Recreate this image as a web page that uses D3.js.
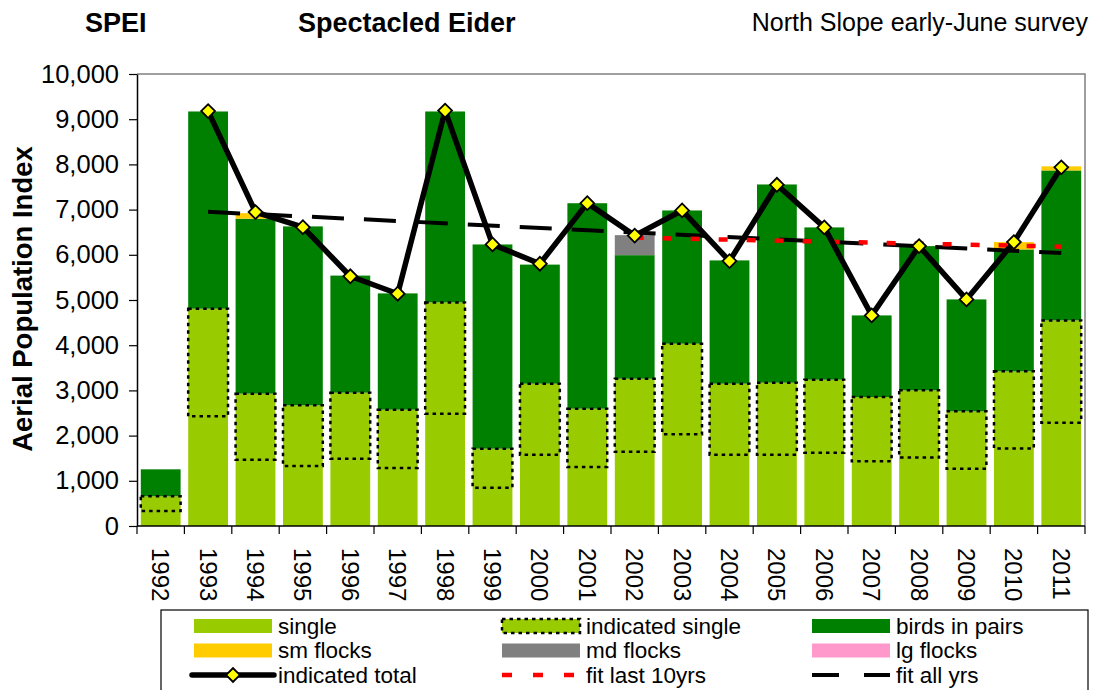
<!DOCTYPE html>
<html>
<head>
<meta charset="utf-8">
<script src="https://cdn.jsdelivr.net/npm/d3@7"></script>
<style>
  body { margin: 0; background: #fff; }
  svg { display: block; font-family: "Liberation Sans", Arial, sans-serif; }
</style>
</head>
<body>
<script>
// values
const years = [1992, 1993, 1994, 1995, 1996, 1997, 1998, 1999, 2000, 2001,
               2002, 2003, 2004, 2005, 2006, 2007, 2008, 2009, 2010, 2011];
const single = [657, 4808, 2928, 2669, 2950, 2574, 4947, 1711, 3149, 2596,
                3259, 4033, 3149, 3171, 3237, 2853, 3001, 2536, 3421, 4549];
const indicatedSingleBase = [332, 2426, 1468, 1327, 1490, 1283, 2486, 849, 1579, 1305,
                             1645, 2028, 1579, 1579, 1623, 1431, 1513, 1269, 1712, 2287];
const birdsInPairs = [597, 4363, 3870, 3959, 2590, 2572, 4224, 4518, 2634, 4545,
                      2733, 2948, 2727, 4385, 3369, 1806, 3191, 2477, 2697, 3317];
const smFlocks = [0, 0, 124, 0, 0, 0, 0, 0, 0, 0,
                  0, 0, 0, 0, 0, 0, 0, 0, 163, 91];
const mdFlocks = [0, 0, 0, 0, 0, 0, 0, 0, 0, 0,
                  443, 0, 0, 0, 0, 0, 0, 0, 0, 0];
const lgFlocks = [0, 0, 0, 0, 0, 0, 0, 0, 0, 0,
                  0, 0, 0, 0, 0, 0, 0, 0, 0, 0];
const indicatedTotal = [null, 9180, 6945, 6612, 5525, 5139, 9190, 6229, 5802, 7143,
                        6425, 6981, 5861, 7549, 6606, 4659, 6192, 5013, 6281, 7935];
const fitAllYears = [1993, 2011];
const fitAllValues = [6950, 6040];
const fitLast10Years = [2002, 2011];
const fitLast10Values = [6380, 6180];
const yTicks = [0, 1000, 2000, 3000, 4000, 5000, 6000, 7000, 8000, 9000, 10000];

const width = 1094, height = 690;
const plot = { left: 137, right: 1085, top: 74, bottom: 526 };

const svg = d3.select("body").append("svg")
    .attr("width", width)
    .attr("height", height);

svg.append("rect").attr("width", width).attr("height", height).attr("fill", "#fff");

const x = d3.scaleBand()
    .domain(years)
    .range([plot.left, plot.right])
    .paddingInner(0.16)
    .paddingOuter(0.08);

const y = d3.scaleLinear()
    .domain([0, 10000])
    .range([plot.bottom, plot.top]);

// stacked bars
const stackKeys = ["single", "pairs", "sm", "md", "lg"];
const colors = { single: "#99CC00", pairs: "#008000", sm: "#FFCC00", md: "#808080", lg: "#FF99CC" };
const rows = years.map((yr, i) => ({
    year: yr, single: single[i], pairs: birdsInPairs[i],
    sm: smFlocks[i], md: mdFlocks[i], lg: lgFlocks[i]
}));
const series = d3.stack().keys(stackKeys)(rows);

svg.append("g").selectAll("g")
    .data(series)
    .join("g")
    .attr("fill", d => colors[d.key])
    .selectAll("rect")
    .data(d => d.filter(s => s[1] - s[0] > 0))
    .join("rect")
    .attr("x", d => x(d.data.year))
    .attr("width", x.bandwidth())
    .attr("y", d => y(d[1]))
    .attr("height", d => y(d[0]) - y(d[1]));

// indicated single (dotted box)
svg.append("g").selectAll("rect")
    .data(years)
    .join("rect")
    .attr("x", d => x(d))
    .attr("width", x.bandwidth())
    .attr("y", (d, i) => y(single[i]))
    .attr("height", (d, i) => y(indicatedSingleBase[i]) - y(single[i]))
    .attr("fill", "none")
    .attr("stroke", "#000")
    .attr("stroke-width", 2.5)
    .attr("stroke-dasharray", "3.5,4");

// plot border (top and right)
svg.append("path")
    .attr("d", `M${plot.left},${plot.top}H${plot.right}V${plot.bottom}`)
    .attr("fill", "none")
    .attr("stroke", "#808080")
    .attr("stroke-width", 1.5);

const cx = d => x(d) + x.bandwidth() / 2;

// fit lines
const fitLine = d3.line().x(d => cx(d[0])).y(d => y(d[1]));
svg.append("path")
    .attr("d", fitLine(d3.zip(fitAllYears, fitAllValues)))
    .attr("fill", "none")
    .attr("stroke", "#000")
    .attr("stroke-width", 4)
    .attr("stroke-dasharray", "32,20");
svg.append("path")
    .attr("d", fitLine(d3.zip(fitLast10Years, fitLast10Values)))
    .attr("fill", "none")
    .attr("stroke", "#FF0000")
    .attr("stroke-width", 4.5)
    .attr("stroke-dasharray", "9,19");

// indicated total
const totals = years.map((yr, i) => [yr, indicatedTotal[i]]).filter(d => d[1] != null);
svg.append("path")
    .attr("d", d3.line().x(d => cx(d[0])).y(d => y(d[1]))(totals))
    .attr("fill", "none")
    .attr("stroke", "#000")
    .attr("stroke-width", 5.5)
    .attr("stroke-linejoin", "round");

const diamond = d3.symbol().type(d3.symbolSquare).size(95);
svg.append("g").selectAll("path")
    .data(totals)
    .join("path")
    .attr("d", diamond)
    .attr("transform", d => `translate(${cx(d[0])},${y(d[1])}) rotate(45)`)
    .attr("fill", "#FFFF00")
    .attr("stroke", "#000")
    .attr("stroke-width", 1.8);

// y axis
const yAxis = svg.append("g")
    .attr("transform", `translate(${plot.left},0)`)
    .call(d3.axisLeft(y).tickValues(yTicks).tickFormat(d3.format(",")).tickSize(8).tickSizeOuter(0));
yAxis.select(".domain").attr("stroke", "#000").attr("stroke-width", 1.5);
yAxis.selectAll(".tick line").attr("stroke", "#000").attr("stroke-width", 1.2);
yAxis.selectAll(".tick text")
    .attr("x", -18)
    .attr("font-size", 25.5)
    .attr("font-family", "'Liberation Sans', Arial, sans-serif")
    .attr("fill", "#000");

// x axis
const xAxis = svg.append("g").attr("transform", `translate(0,${plot.bottom})`);
xAxis.append("line")
    .attr("x1", plot.left).attr("x2", plot.right)
    .attr("stroke", "#000").attr("stroke-width", 1.5);
const step = x.step();
xAxis.selectAll(".xtick")
    .data(d3.range(years.length + 1))
    .join("line")
    .attr("x1", i => plot.left + i * step)
    .attr("x2", i => plot.left + i * step)
    .attr("y1", 0).attr("y2", 8)
    .attr("stroke", "#000").attr("stroke-width", 1.2);
xAxis.selectAll(".xlabel")
    .data(years)
    .join("text")
    .attr("transform", d => `translate(${cx(d)},22) rotate(90)`)
    .attr("dy", "0.35em")
    .attr("font-size", 24)
    .attr("text-anchor", "start")
    .text(d => d);

// titles
svg.append("text").attr("x", 85).attr("y", 32)
    .attr("font-size", 27).attr("font-weight", "bold").text("SPEI");
svg.append("text").attr("x", 298).attr("y", 32)
    .attr("font-size", 27).attr("font-weight", "bold").text("Spectacled Eider");
svg.append("text").attr("x", 1088).attr("y", 31)
    .attr("font-size", 25).attr("text-anchor", "end").text("North Slope early-June survey");
svg.append("text")
    .attr("transform", "translate(32,299) rotate(-90)")
    .attr("font-size", 27.5).attr("font-weight", "bold").attr("text-anchor", "middle")
    .text("Aerial Population Index");

// legend
const legend = svg.append("g");
legend.append("rect")
    .attr("x", 161).attr("y", 610).attr("width", 927).attr("height", 100)
    .attr("fill", "#fff").attr("stroke", "#000").attr("stroke-width", 1.2);

const legendItems = [
    { label: "single", type: "box", fill: colors.single },
    { label: "indicated single", type: "dotted", fill: colors.single },
    { label: "birds in pairs", type: "box", fill: colors.pairs },
    { label: "sm flocks", type: "box", fill: colors.sm },
    { label: "md flocks", type: "box", fill: colors.md },
    { label: "lg flocks", type: "box", fill: colors.lg },
    { label: "indicated total", type: "total" },
    { label: "fit last 10yrs", type: "red" },
    { label: "fit all yrs", type: "black" }
];
const colX = [194, 502, 812];
const rowY = [626, 650.5, 675];
const swW = 78;

legendItems.forEach((item, i) => {
    const lx = colX[i % 3], ly = rowY[Math.floor(i / 3)];
    const g = legend.append("g").attr("transform", `translate(${lx},${ly})`);
    if (item.type === "box" || item.type === "dotted") {
        g.append("rect").attr("x", 0).attr("y", -7).attr("width", swW).attr("height", 14)
            .attr("fill", item.fill);
        if (item.type === "dotted") {
            g.append("rect").attr("x", 0).attr("y", -7).attr("width", swW).attr("height", 14)
                .attr("fill", "none").attr("stroke", "#000").attr("stroke-width", 2.5)
                .attr("stroke-dasharray", "3.5,4");
        }
    } else if (item.type === "total") {
        g.append("line").attr("x1", -2).attr("x2", swW + 2)
            .attr("stroke", "#000").attr("stroke-width", 5.5).attr("stroke-linecap", "round");
        g.append("path").attr("d", diamond)
            .attr("transform", `translate(${swW / 2},0) rotate(45)`)
            .attr("fill", "#FFFF00").attr("stroke", "#000").attr("stroke-width", 1.8);
    } else if (item.type === "red") {
        g.append("line").attr("x1", 0).attr("x2", swW)
            .attr("stroke", "#FF0000").attr("stroke-width", 4.5).attr("stroke-dasharray", "10,21");
    } else {
        g.append("line").attr("x1", 0).attr("x2", swW)
            .attr("stroke", "#000").attr("stroke-width", 4).attr("stroke-dasharray", "27,25");
    }
    g.append("text").attr("x", swW + 6).attr("y", 0).attr("dy", "0.35em")
        .attr("font-size", 22.5).text(item.label);
});
</script>
</body>
</html>
